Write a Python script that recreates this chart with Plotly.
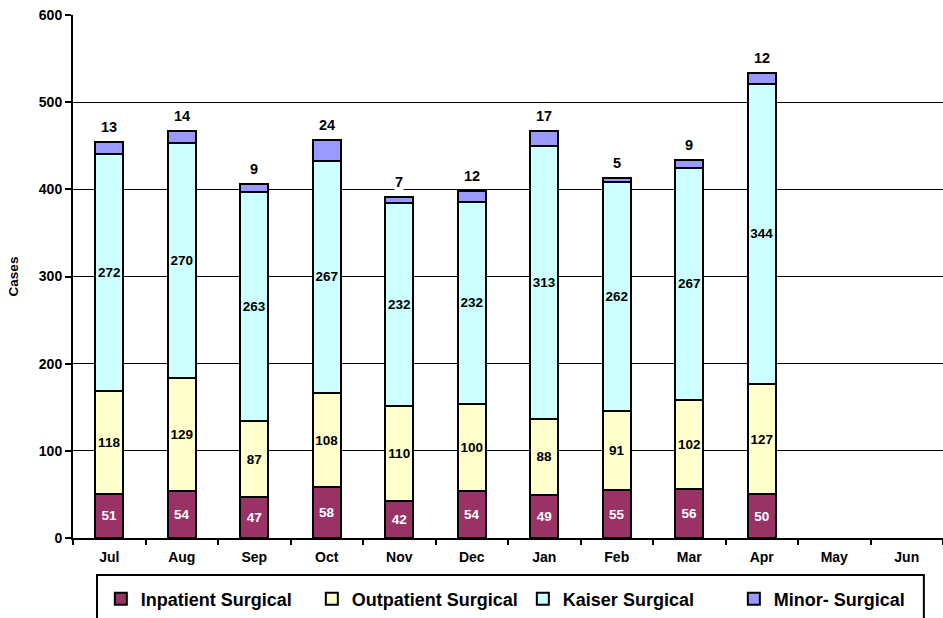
import plotly.graph_objects as go

months = ["Jul", "Aug", "Sep", "Oct", "Nov", "Dec", "Jan", "Feb", "Mar", "Apr", "May", "Jun"]
inpatient = [51, 54, 47, 58, 42, 54, 49, 55, 56, 50, None, None]
outpatient = [118, 129, 87, 108, 110, 100, 88, 91, 102, 127, None, None]
kaiser = [272, 270, 263, 267, 232, 232, 313, 262, 267, 344, None, None]
minor = [13, 14, 9, 24, 7, 12, 17, 5, 9, 12, None, None]
y_ticks = [0, 100, 200, 300, 400, 500, 600]

FONT = "Arial, Liberation Sans, sans-serif"

fig = go.Figure()

def lbl(vals):
    return [("" if v is None else str(v)) for v in vals]

fig.add_trace(go.Bar(
    x=months, y=inpatient, name="Inpatient Surgical",
    marker=dict(color="#993366", line=dict(color="black", width=2)),
    text=lbl(inpatient), textposition="inside", insidetextanchor="middle",
    textangle=0, constraintext="none",
    textfont=dict(color="white", size=13.5, family=FONT, weight="bold"),
))
fig.add_trace(go.Bar(
    x=months, y=outpatient, name="Outpatient Surgical",
    marker=dict(color="#FFFFCC", line=dict(color="black", width=2)),
    text=lbl(outpatient), textposition="inside", insidetextanchor="middle",
    textangle=0, constraintext="none",
    textfont=dict(color="black", size=13.5, family=FONT, weight="bold"),
))
fig.add_trace(go.Bar(
    x=months, y=kaiser, name="Kaiser Surgical",
    marker=dict(color="#CCFFFF", line=dict(color="black", width=2)),
    text=lbl(kaiser), textposition="inside", insidetextanchor="middle",
    textangle=0, constraintext="none",
    textfont=dict(color="black", size=13.5, family=FONT, weight="bold"),
))
fig.add_trace(go.Bar(
    x=months, y=minor, name="Minor- Surgical",
    marker=dict(color="#9999FF", line=dict(color="black", width=2)),
    textposition="none",
))

# labels for the minor segment, placed above each stack
for i, m in enumerate(months):
    if minor[i] is None:
        continue
    total = inpatient[i] + outpatient[i] + kaiser[i] + minor[i]
    fig.add_annotation(
        x=m, y=total, xref="x", yref="y", text=str(minor[i]),
        showarrow=False, yanchor="bottom", yshift=6,
        font=dict(size=14.5, color="black", family=FONT, weight="bold"),
        bgcolor="white", borderpad=0,
    )

# legend frame
fig.add_shape(type="rect", xref="paper", yref="paper",
              x0=0.0276, x1=0.978, y0=-0.25, y1=-0.0707,
              line=dict(color="black", width=2), fillcolor="rgba(0,0,0,0)",
              layer="above")

fig.update_layout(
    width=943, height=618,
    margin=dict(l=73, r=0, t=15, b=80, autoexpand=False),
    paper_bgcolor="white", plot_bgcolor="white",
    barmode="stack", bargap=0.61,
    font=dict(family=FONT, color="black"),
    showlegend=True,
    legend=dict(
        orientation="h", x=0.032, xanchor="left", y=-0.1166, yanchor="middle",
        traceorder="normal", entrywidth=166,
        font=dict(size=18, family=FONT, color="black", weight="bold"),
        bgcolor="rgba(0,0,0,0)", borderwidth=0,
    ),
    xaxis=dict(
        type="category", categoryorder="array", categoryarray=months,
        showline=True, linecolor="black", linewidth=2, automargin=False,
        ticks="outside", tickson="boundaries", ticklen=5, tickcolor="black", tickwidth=2,
        tickfont=dict(size=14, family=FONT, color="black", weight="bold"),
        ticklabelstandoff=5,
        showgrid=False, fixedrange=True,
    ),
    yaxis=dict(
        range=[0, 600], tickvals=y_ticks, automargin=False,
        showline=True, linecolor="black", linewidth=2,
        ticks="outside", ticklen=6, tickcolor="black", tickwidth=2,
        tickfont=dict(size=14, family=FONT, color="black", weight="bold"),
        showgrid=True, gridcolor="black", gridwidth=1,
        zeroline=False, fixedrange=True,
        title=dict(text="Cases", font=dict(size=13.5, family=FONT, color="black", weight="bold"),
                   standoff=17),
    ),
)

fig.write_html("out.html",
               config={"displayModeBar": False},
               post_script="document.body.style.margin='0';document.body.style.overflow='hidden';")
